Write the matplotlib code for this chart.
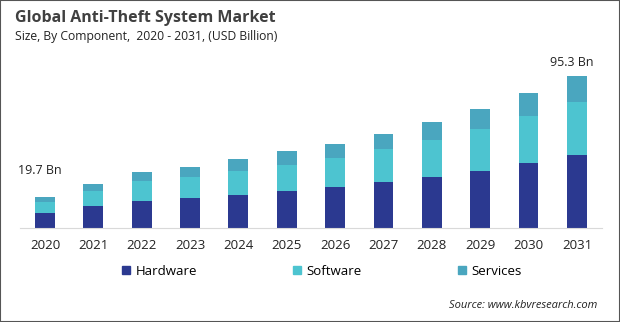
import matplotlib
matplotlib.use("Agg")
import matplotlib.pyplot as plt
from matplotlib.patches import Rectangle, Patch
import numpy as np

plt.rcParams['font.family'] = ['Open Sans', 'DejaVu Sans']

years = ["2020", "2021", "2022", "2023", "2024", "2025",
         "2026", "2027", "2028", "2029", "2030", "2031"]
hardware = [9.4, 13.8, 16.9, 18.8, 20.7, 23.2, 25.7, 28.8, 32.0, 35.7, 40.8, 45.8]
software = [7.1, 9.4, 12.8, 13.4, 15.0, 16.3, 18.4, 20.7, 23.2, 26.4, 29.4, 33.4]
services = [3.2, 4.4, 5.4, 6.0, 7.6, 8.8, 8.6, 9.4, 11.3, 12.5, 14.4, 16.1]
series_names = ["Hardware", "Software", "Services"]

cores = ["#2b3990", "#4dc4d0", "#4aa6bf"]

fig = plt.figure(figsize=(6.2, 3.22), dpi=100)
ax = fig.add_axes([0.032, 0.292, 0.939, 0.52])

x = np.arange(len(years))
largura = 0.41
base = np.zeros(len(years))
for vals, nome, cor in zip([hardware, software, services], series_names, cores):
    ax.bar(x, vals, width=largura, bottom=base, color=cor, label=nome)
    base = base + np.array(vals)

# rótulos do primeiro e último total
ax.annotate("19.7 Bn", (x[0], base[0]), xytext=(-4, 14), textcoords="offset points",
            ha="center", va="bottom", fontsize=9, color="#222222")
ax.annotate("95.3 Bn", (x[-1], base[-1]), xytext=(-4, 5), textcoords="offset points",
            ha="center", va="bottom", fontsize=9, color="#222222")

ax.set_xlim(-0.52, 11.52)
ax.set_ylim(0, 105)
ax.set_xticks(x)
ax.set_xticklabels(years, fontsize=9.5, color="#222222")
ax.set_yticks([])
for s in ["top", "right", "left"]:
    ax.spines[s].set_visible(False)
ax.spines["bottom"].set_color("#d9d9d9")
ax.tick_params(axis="x", length=0, pad=8)

fig.text(0.024, 0.945, "Global Anti-Theft System Market", fontsize=11.5,
         fontweight="bold", color="#404040", va="center")
fig.text(0.024, 0.888, "Size, By Component,  2020 - 2031, (USD Billion)", fontsize=8.7,
         color="#222222", va="center")

handles = [Patch(color=c) for c in cores]
fig.legend(handles, series_names, loc="center left", bbox_to_anchor=(0.197, 0.158),
           ncol=3, frameon=False, fontsize=9.5, handlelength=0.6, handleheight=0.6,
           handletextpad=0.4, columnspacing=7.3, borderaxespad=0, borderpad=0)

fig.text(0.963, 0.05, "Source: www.kbvresearch.com", fontsize=8, style="italic",
         color="#222222", ha="right", va="center")

fig.patches.append(Rectangle((0, 0), 1, 1, transform=fig.transFigure, fill=False,
                             edgecolor="#555555", linewidth=1.5))

fig.savefig("out.png", dpi=100)
